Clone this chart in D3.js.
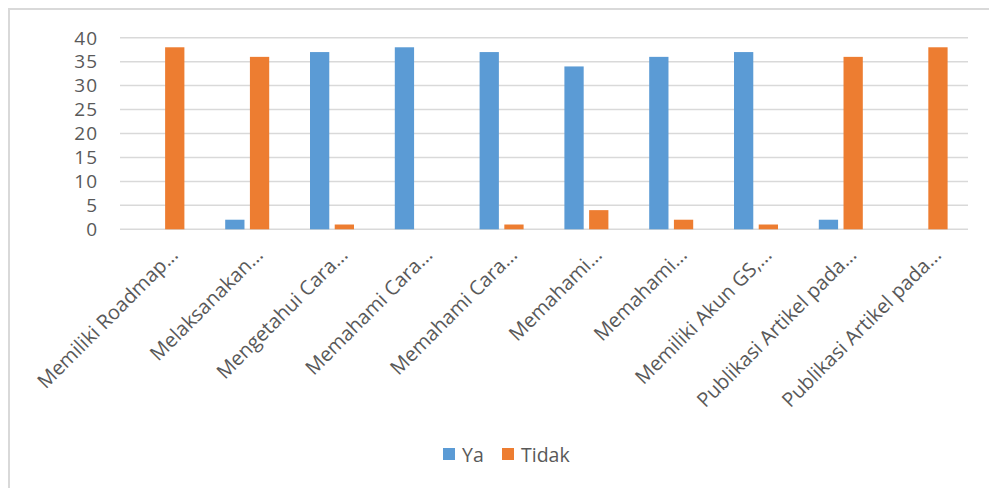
<!DOCTYPE html>
<html>
<head>
<meta charset="utf-8">
<script src="https://cdn.jsdelivr.net/npm/d3@7"></script>
<style>
	body { margin: 0; background: #fff; }
	text { font-family: "Open Sans", sans-serif; fill: #595959; }
</style>
</head>
<body>
<div id="chart"></div>
<script>
// Data
const categories = [
	"Memiliki Roadmap...",
	"Melaksanakan...",
	"Mengetahui Cara...",
	"Memahami Cara...",
	"Memahami Cara...",
	"Memahami...",
	"Memahami...",
	"Memiliki Akun GS,...",
	"Publikasi Artikel pada...",
	"Publikasi Artikel pada...",
];
const seriesNames = ["Ya", "Tidak"];
const yaValues = [0, 2, 37, 38, 37, 34, 36, 37, 2, 0];
const tidakValues = [38, 36, 1, 0, 1, 4, 2, 1, 36, 38];
const yTicks = [0, 5, 10, 15, 20, 25, 30, 35, 40];

const colors = { Ya: "#5b9bd5", Tidak: "#ed7d31" };

const width = 989;
const height = 488;
const plot = { left: 120, right: 968, top: 37.7, bottom: 229.3 };

const svg = d3
	.select("#chart")
	.append("svg")
	.attr("width", width)
	.attr("height", height);

// Outer chart border (only top and left visible in the crop)
svg
	.append("rect")
	.attr("x", 9)
	.attr("y", 9)
	.attr("width", width + 20)
	.attr("height", height + 20)
	.attr("fill", "none")
	.attr("stroke", "#d9d9d9")
	.attr("stroke-width", 2);

const x0 = d3
	.scaleBand()
	.domain(d3.range(categories.length))
	.range([plot.left, plot.right]);

const bw = x0.bandwidth();
const x1 = d3
	.scaleBand()
	.domain(seriesNames)
	.range([bw / 2 - 22, bw / 2 + 22])
	.paddingInner(0.22);

const y = d3.scaleLinear().domain([0, 40]).range([plot.bottom, plot.top]);

// Gridlines
svg
	.append("g")
	.selectAll("line")
	.data(yTicks)
	.enter()
	.append("line")
	.attr("x1", plot.left)
	.attr("x2", plot.right)
	.attr("y1", (d) => y(d))
	.attr("y2", (d) => y(d))
	.attr("stroke", "#d9d9d9")
	.attr("stroke-width", 1.5);

// Y tick labels
svg
	.append("g")
	.selectAll("text")
	.data(yTicks)
	.enter()
	.append("text")
	.attr("x", 98)
	.attr("y", (d) => y(d))
	.attr("dy", "0.36em")
	.attr("text-anchor", "end")
	.style("font-size", "19px")
	.style("letter-spacing", "1px")
	.text((d) => d);

// Bars
const rows = categories.map((c, i) => ({ i, Ya: yaValues[i], Tidak: tidakValues[i] }));

const groups = svg
	.append("g")
	.selectAll("g")
	.data(rows)
	.enter()
	.append("g")
	.attr("transform", (d) => `translate(${x0(d.i)},0)`);

groups
	.selectAll("rect")
	.data((d) => seriesNames.map((k) => ({ key: k, value: d[k] })))
	.enter()
	.append("rect")
	.attr("x", (d) => x1(d.key))
	.attr("width", x1.bandwidth())
	.attr("y", (d) => y(d.value))
	.attr("height", (d) => y(0) - y(d.value))
	.attr("fill", (d) => colors[d.key]);

// Category labels, rotated
svg
	.append("g")
	.selectAll("text")
	.data(categories)
	.enter()
	.append("text")
	.attr("transform", (d, i) => `translate(${x0(i) + bw / 2 + 7},${plot.bottom + 17}) rotate(-45)`)
	.attr("text-anchor", "end")
	.attr("dy", "0.7em")
	.style("font-size", "20px")
	.text((d) => d);

// Legend
const legend = svg.append("g").attr("transform", "translate(443,448)");
const legendX = [0, 59];

legend
	.selectAll("rect")
	.data(seriesNames)
	.enter()
	.append("rect")
	.attr("x", (d, i) => legendX[i])
	.attr("y", 0)
	.attr("width", 12)
	.attr("height", 12)
	.attr("fill", (d) => colors[d]);

legend
	.selectAll("text")
	.data(seriesNames)
	.enter()
	.append("text")
	.attr("x", (d, i) => legendX[i] + 19)
	.attr("y", 13.5)
	.style("font-size", "19.5px")
	.text((d) => d);
</script>
</body>
</html>
